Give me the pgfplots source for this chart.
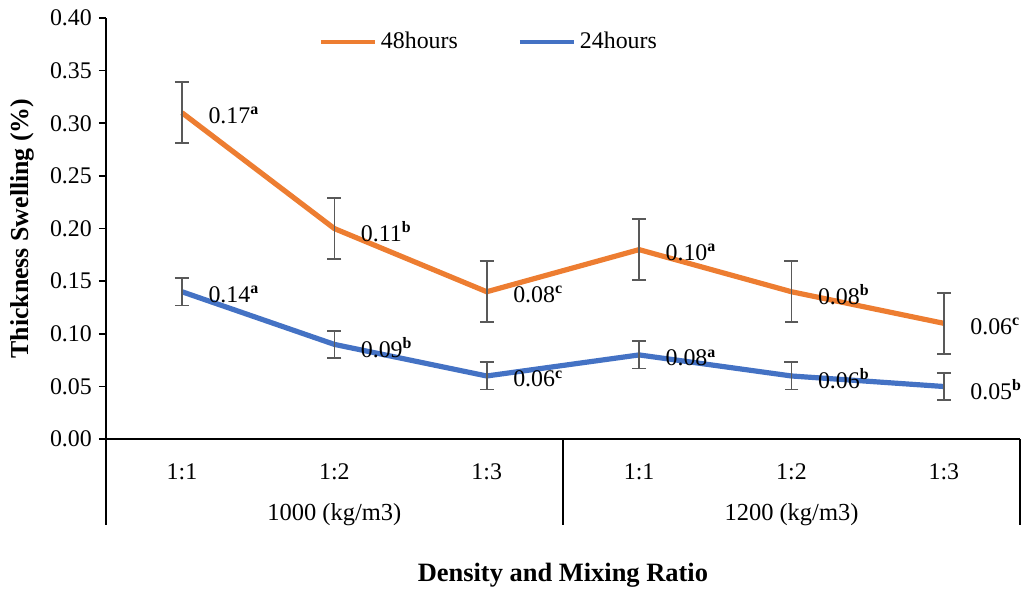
\documentclass[border=0pt]{standalone}
\usepackage{fontspec}
\setmainfont{Liberation Serif}
\usepackage{pgfplots}
\pgfplotsset{compat=1.18}
\definecolor{orng}{HTML}{ED7D31}
\definecolor{blu}{HTML}{4472C4}
\definecolor{errg}{HTML}{595959}
\newcommand\sgrp[1]{\textsuperscript{\textbf{#1}}}
\begin{document}
\begin{tikzpicture}
\begin{axis}[
    scale only axis, width=458bp, height=211bp,
    xmin=-0.5, xmax=5.5, ymin=0, ymax=0.40,
    axis lines=left,
    axis line style={-, line width=0.8bp},
    xtick={0,...,5},
    xticklabels={1:1,1:2,1:3,1:1,1:2,1:3},
    major x tick style={draw=none},
    xticklabel style={yshift=-5.5bp},
    ytick={0,0.05,...,0.41},
    yticklabel style={/pgf/number format/fixed, /pgf/number format/fixed zerofill,
        /pgf/number format/precision=2},
    /pgf/number format/assume math mode=true,
    tick align=outside, major tick length=3.5bp,
    tick style={black, line width=0.8bp},
    ticklabel style={font=\fontsize{12}{14}\selectfont},
    clip=false,
    legend columns=2,
    legend style={draw=none, fill=none, at={(axis description cs:0.42,0.943)}, anchor=center,
        font=\fontsize{12}{14}\selectfont, /tikz/every even column/.append style={column sep=28bp}},
    legend image code/.code={\draw[#1, line width=2.2bp] (0bp,0bp) -- (27bp,0bp);},
    point meta=explicit symbolic,
    nodes near coords,
    nodes near coords style={anchor=west, inner sep=1bp, xshift=11bp, yshift=-1.5bp, text=black,
        font=\fontsize{12}{14}\selectfont},
]
\addplot[orng, line width=2.6bp, mark=none,
    error bars/.cd, y dir=both, y explicit,
    error bar style={errg, line width=0.8bp}, error mark options={errg, rotate=90, mark size=3.5bp, line width=0.8bp}]
    table[x=x, y=y, y error=e, meta=lab] {
x y e lab
0 0.31 0.029 0.17\sgrp{a}
1 0.20 0.029 0.11\sgrp{b}
2 0.14 0.029 0.08\sgrp{c}
3 0.18 0.029 0.10\sgrp{a}
4 0.14 0.029 0.08\sgrp{b}
5 0.11 0.029 0.06\sgrp{c}
};
\addlegendentry{48hours}
\addplot[blu, line width=2.6bp, mark=none,
    error bars/.cd, y dir=both, y explicit,
    error bar style={errg, line width=0.8bp}, error mark options={errg, rotate=90, mark size=3.5bp, line width=0.8bp}]
    table[x=x, y=y, y error=e, meta=lab] {
x y e lab
0 0.14 0.013 0.14\sgrp{a}
1 0.09 0.013 0.09\sgrp{b}
2 0.06 0.013 0.06\sgrp{c}
3 0.08 0.013 0.08\sgrp{a}
4 0.06 0.013 0.06\sgrp{b}
5 0.05 0.013 0.05\sgrp{b}
};
\addlegendentry{24hours}
\draw[line width=0.8bp] (axis cs:-0.5,0) -- ++(0bp,-43bp);
\draw[line width=0.8bp] (axis cs:2.5,0) -- ++(0bp,-43bp);
\draw[line width=0.8bp] (axis cs:5.5,0) -- ++(0bp,-43bp);
\node[font=\fontsize{12.3}{14}\selectfont] at ([yshift=-38bp]axis cs:1,0) {1000 (kg/m3)};
\node[font=\fontsize{12.3}{14}\selectfont] at ([yshift=-38bp]axis cs:4,0) {1200 (kg/m3)};
\node[font=\bfseries\fontsize{13.3}{15}\selectfont] at ([yshift=-68bp]axis description cs:0.5,0) {Density and Mixing Ratio};
\node[rotate=90, font=\bfseries\fontsize{13}{15}\selectfont] at ([xshift=-42bp]axis description cs:0,0.5) {Thickness Swelling (\%)};
\path ([xshift=-53bp,yshift=-76bp]axis description cs:0,0) rectangle ++(512bp,296bp);
\end{axis}
\end{tikzpicture}
\end{document}
